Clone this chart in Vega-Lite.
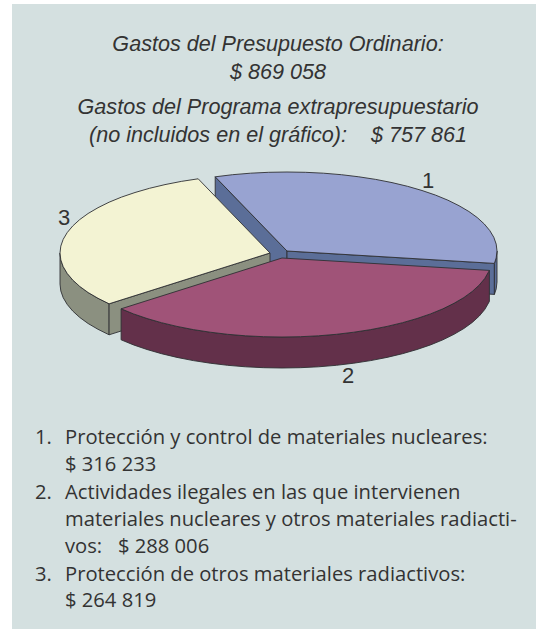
{"$schema":"https://vega.github.io/schema/vega-lite/v6.json","width":536,"height":629,"padding":0,"autosize":{"type":"fit","contains":"padding"},"background":"#ffffff","config":{"view":{"stroke":null}},
"datasets":{
"panel":[{"x":12,"x2":536,"y":4,"y2":629}],
"pie":[
{"part":"a","face":"1 lado","n":1,"x":215.2,"y":176.8},{"part":"a","face":"1 lado","n":2,"x":287,"y":251},{"part":"a","face":"1 lado","n":3,"x":287,"y":282},{"part":"a","face":"1 lado","n":4,"x":215.2,"y":207.8},{"part":"a","face":"1 lado","n":5,"x":215.2,"y":176.8},
{"part":"b","face":"1 lado","n":6,"x":287,"y":251},{"part":"b","face":"1 lado","n":7,"x":494.4,"y":263.4},{"part":"b","face":"1 lado","n":8,"x":494.4,"y":294.4},{"part":"b","face":"1 lado","n":9,"x":287,"y":282},{"part":"b","face":"1 lado","n":10,"x":287,"y":251},
{"part":"c","face":"1 lado","n":11,"x":497,"y":251},{"part":"c","face":"1 lado","n":12,"x":496.2,"y":257.9},{"part":"c","face":"1 lado","n":13,"x":494.4,"y":263.4},{"part":"c","face":"1 lado","n":14,"x":494.4,"y":294.4},{"part":"c","face":"1 lado","n":15,"x":496.2,"y":288.9},{"part":"c","face":"1 lado","n":16,"x":497,"y":282},{"part":"c","face":"1 lado","n":17,"x":497,"y":251},
{"part":"d","face":"1 sup","n":20,"x":215.2,"y":176.8},{"part":"d","face":"1 sup","n":21,"x":232.6,"y":174.7},{"part":"d","face":"1 sup","n":22,"x":250.5,"y":173.2},{"part":"d","face":"1 sup","n":23,"x":268.7,"y":172.3},{"part":"d","face":"1 sup","n":24,"x":287,"y":172},{"part":"d","face":"1 sup","n":25,"x":305.3,"y":172.3},{"part":"d","face":"1 sup","n":26,"x":323.5,"y":173.2},{"part":"d","face":"1 sup","n":27,"x":341.4,"y":174.7},{"part":"d","face":"1 sup","n":28,"x":358.8,"y":176.8},{"part":"d","face":"1 sup","n":29,"x":375.7,"y":179.4},{"part":"d","face":"1 sup","n":30,"x":392,"y":182.6},{"part":"d","face":"1 sup","n":31,"x":407.5,"y":186.3},{"part":"d","face":"1 sup","n":32,"x":422,"y":190.5},{"part":"d","face":"1 sup","n":33,"x":435.5,"y":195.1},{"part":"d","face":"1 sup","n":34,"x":447.9,"y":200.2},{"part":"d","face":"1 sup","n":35,"x":459,"y":205.7},{"part":"d","face":"1 sup","n":36,"x":468.9,"y":211.5},{"part":"d","face":"1 sup","n":37,"x":477.3,"y":217.6},{"part":"d","face":"1 sup","n":38,"x":484.3,"y":224},{"part":"d","face":"1 sup","n":39,"x":489.8,"y":230.6},{"part":"d","face":"1 sup","n":40,"x":493.8,"y":237.3},{"part":"d","face":"1 sup","n":41,"x":496.2,"y":244.1},{"part":"d","face":"1 sup","n":42,"x":497,"y":251},{"part":"d","face":"1 sup","n":43,"x":496.2,"y":257.9},{"part":"d","face":"1 sup","n":44,"x":494.4,"y":263.4},{"part":"d","face":"1 sup","n":45,"x":287,"y":251},{"part":"d","face":"1 sup","n":46,"x":215.2,"y":176.8},
{"part":"e","face":"3 lado","n":50,"x":60,"y":253},{"part":"e","face":"3 lado","n":51,"x":60.8,"y":259.9},{"part":"e","face":"3 lado","n":52,"x":63.2,"y":266.7},{"part":"e","face":"3 lado","n":53,"x":67.2,"y":273.4},{"part":"e","face":"3 lado","n":54,"x":72.7,"y":280},{"part":"e","face":"3 lado","n":55,"x":79.7,"y":286.4},{"part":"e","face":"3 lado","n":56,"x":88.1,"y":292.5},{"part":"e","face":"3 lado","n":57,"x":98,"y":298.3},{"part":"e","face":"3 lado","n":58,"x":109.1,"y":303.8},{"part":"e","face":"3 lado","n":59,"x":109.1,"y":334.8},{"part":"e","face":"3 lado","n":60,"x":98,"y":329.3},{"part":"e","face":"3 lado","n":61,"x":88.1,"y":323.5},{"part":"e","face":"3 lado","n":62,"x":79.7,"y":317.4},{"part":"e","face":"3 lado","n":63,"x":72.7,"y":311},{"part":"e","face":"3 lado","n":64,"x":67.2,"y":304.4},{"part":"e","face":"3 lado","n":65,"x":63.2,"y":297.7},{"part":"e","face":"3 lado","n":66,"x":60.8,"y":290.9},{"part":"e","face":"3 lado","n":67,"x":60,"y":284},{"part":"e","face":"3 lado","n":68,"x":60,"y":253},
{"part":"f","face":"3 lado","n":70,"x":109.1,"y":303.8},{"part":"f","face":"3 lado","n":71,"x":270,"y":253},{"part":"f","face":"3 lado","n":72,"x":270,"y":284},{"part":"f","face":"3 lado","n":73,"x":109.1,"y":334.8},{"part":"f","face":"3 lado","n":74,"x":109.1,"y":303.8},
{"part":"g","face":"3 sup","n":80,"x":198.2,"y":178.8},{"part":"g","face":"3 sup","n":81,"x":181.3,"y":181.4},{"part":"g","face":"3 sup","n":82,"x":165,"y":184.6},{"part":"g","face":"3 sup","n":83,"x":149.5,"y":188.3},{"part":"g","face":"3 sup","n":84,"x":135,"y":192.5},{"part":"g","face":"3 sup","n":85,"x":121.5,"y":197.1},{"part":"g","face":"3 sup","n":86,"x":109.1,"y":202.2},{"part":"g","face":"3 sup","n":87,"x":98,"y":207.7},{"part":"g","face":"3 sup","n":88,"x":88.1,"y":213.5},{"part":"g","face":"3 sup","n":89,"x":79.7,"y":219.6},{"part":"g","face":"3 sup","n":90,"x":72.7,"y":226},{"part":"g","face":"3 sup","n":91,"x":67.2,"y":232.6},{"part":"g","face":"3 sup","n":92,"x":63.2,"y":239.3},{"part":"g","face":"3 sup","n":93,"x":60.8,"y":246.1},{"part":"g","face":"3 sup","n":94,"x":60,"y":253},{"part":"g","face":"3 sup","n":95,"x":60.8,"y":259.9},{"part":"g","face":"3 sup","n":96,"x":63.2,"y":266.7},{"part":"g","face":"3 sup","n":97,"x":67.2,"y":273.4},{"part":"g","face":"3 sup","n":98,"x":72.7,"y":280},{"part":"g","face":"3 sup","n":99,"x":79.7,"y":286.4},{"part":"g","face":"3 sup","n":100,"x":88.1,"y":292.5},{"part":"g","face":"3 sup","n":101,"x":98,"y":298.3},{"part":"g","face":"3 sup","n":102,"x":109.1,"y":303.8},{"part":"g","face":"3 sup","n":103,"x":270,"y":253},{"part":"g","face":"3 sup","n":104,"x":198.2,"y":178.8},
{"part":"h","face":"2 lado","n":110,"x":489.4,"y":270.4},{"part":"h","face":"2 lado","n":111,"x":484.8,"y":278.4},{"part":"h","face":"2 lado","n":112,"x":479.3,"y":285},{"part":"h","face":"2 lado","n":113,"x":472.3,"y":291.4},{"part":"h","face":"2 lado","n":114,"x":463.9,"y":297.5},{"part":"h","face":"2 lado","n":115,"x":454,"y":303.3},{"part":"h","face":"2 lado","n":116,"x":442.9,"y":308.8},{"part":"h","face":"2 lado","n":117,"x":430.5,"y":313.9},{"part":"h","face":"2 lado","n":118,"x":417,"y":318.5},{"part":"h","face":"2 lado","n":119,"x":402.5,"y":322.7},{"part":"h","face":"2 lado","n":120,"x":387,"y":326.4},{"part":"h","face":"2 lado","n":121,"x":370.7,"y":329.6},{"part":"h","face":"2 lado","n":122,"x":353.8,"y":332.2},{"part":"h","face":"2 lado","n":123,"x":336.4,"y":334.3},{"part":"h","face":"2 lado","n":124,"x":318.5,"y":335.8},{"part":"h","face":"2 lado","n":125,"x":300.3,"y":336.7},{"part":"h","face":"2 lado","n":126,"x":282,"y":337},{"part":"h","face":"2 lado","n":127,"x":263.7,"y":336.7},{"part":"h","face":"2 lado","n":128,"x":245.5,"y":335.8},{"part":"h","face":"2 lado","n":129,"x":227.6,"y":334.3},{"part":"h","face":"2 lado","n":130,"x":210.2,"y":332.2},{"part":"h","face":"2 lado","n":131,"x":193.3,"y":329.6},{"part":"h","face":"2 lado","n":132,"x":177,"y":326.4},{"part":"h","face":"2 lado","n":133,"x":161.5,"y":322.7},{"part":"h","face":"2 lado","n":134,"x":147,"y":318.5},{"part":"h","face":"2 lado","n":135,"x":133.5,"y":313.9},{"part":"h","face":"2 lado","n":136,"x":121.1,"y":308.8},
{"part":"h","face":"2 lado","n":137,"x":121.1,"y":339.8},{"part":"h","face":"2 lado","n":138,"x":133.5,"y":344.9},{"part":"h","face":"2 lado","n":139,"x":147,"y":349.5},{"part":"h","face":"2 lado","n":140,"x":161.5,"y":353.7},{"part":"h","face":"2 lado","n":141,"x":177,"y":357.4},{"part":"h","face":"2 lado","n":142,"x":193.3,"y":360.6},{"part":"h","face":"2 lado","n":143,"x":210.2,"y":363.2},{"part":"h","face":"2 lado","n":144,"x":227.6,"y":365.3},{"part":"h","face":"2 lado","n":145,"x":245.5,"y":366.8},{"part":"h","face":"2 lado","n":146,"x":263.7,"y":367.7},{"part":"h","face":"2 lado","n":147,"x":282,"y":368},{"part":"h","face":"2 lado","n":148,"x":300.3,"y":367.7},{"part":"h","face":"2 lado","n":149,"x":318.5,"y":366.8},{"part":"h","face":"2 lado","n":150,"x":336.4,"y":365.3},{"part":"h","face":"2 lado","n":151,"x":353.8,"y":363.2},{"part":"h","face":"2 lado","n":152,"x":370.7,"y":360.6},{"part":"h","face":"2 lado","n":153,"x":387,"y":357.4},{"part":"h","face":"2 lado","n":154,"x":402.5,"y":353.7},{"part":"h","face":"2 lado","n":155,"x":417,"y":349.5},{"part":"h","face":"2 lado","n":156,"x":430.5,"y":344.9},{"part":"h","face":"2 lado","n":157,"x":442.9,"y":339.8},{"part":"h","face":"2 lado","n":158,"x":454,"y":334.3},{"part":"h","face":"2 lado","n":159,"x":463.9,"y":328.5},{"part":"h","face":"2 lado","n":160,"x":472.3,"y":322.4},{"part":"h","face":"2 lado","n":161,"x":479.3,"y":316},{"part":"h","face":"2 lado","n":162,"x":484.8,"y":309.4},{"part":"h","face":"2 lado","n":163,"x":489.4,"y":301.4},{"part":"h","face":"2 lado","n":164,"x":489.4,"y":270.4},
{"part":"i","face":"2 sup","n":170,"x":489.4,"y":270.4},{"part":"i","face":"2 sup","n":171,"x":484.8,"y":278.4},{"part":"i","face":"2 sup","n":172,"x":479.3,"y":285},{"part":"i","face":"2 sup","n":173,"x":472.3,"y":291.4},{"part":"i","face":"2 sup","n":174,"x":463.9,"y":297.5},{"part":"i","face":"2 sup","n":175,"x":454,"y":303.3},{"part":"i","face":"2 sup","n":176,"x":442.9,"y":308.8},{"part":"i","face":"2 sup","n":177,"x":430.5,"y":313.9},{"part":"i","face":"2 sup","n":178,"x":417,"y":318.5},{"part":"i","face":"2 sup","n":179,"x":402.5,"y":322.7},{"part":"i","face":"2 sup","n":180,"x":387,"y":326.4},{"part":"i","face":"2 sup","n":181,"x":370.7,"y":329.6},{"part":"i","face":"2 sup","n":182,"x":353.8,"y":332.2},{"part":"i","face":"2 sup","n":183,"x":336.4,"y":334.3},{"part":"i","face":"2 sup","n":184,"x":318.5,"y":335.8},{"part":"i","face":"2 sup","n":185,"x":300.3,"y":336.7},{"part":"i","face":"2 sup","n":186,"x":282,"y":337},{"part":"i","face":"2 sup","n":187,"x":263.7,"y":336.7},{"part":"i","face":"2 sup","n":188,"x":245.5,"y":335.8},{"part":"i","face":"2 sup","n":189,"x":227.6,"y":334.3},{"part":"i","face":"2 sup","n":190,"x":210.2,"y":332.2},{"part":"i","face":"2 sup","n":191,"x":193.3,"y":329.6},{"part":"i","face":"2 sup","n":192,"x":177,"y":326.4},{"part":"i","face":"2 sup","n":193,"x":161.5,"y":322.7},{"part":"i","face":"2 sup","n":194,"x":147,"y":318.5},{"part":"i","face":"2 sup","n":195,"x":133.5,"y":313.9},{"part":"i","face":"2 sup","n":196,"x":121.1,"y":308.8},{"part":"i","face":"2 sup","n":197,"x":282,"y":258},{"part":"i","face":"2 sup","n":198,"x":489.4,"y":270.4}
],
"title":[
{"text":"Gastos del Presupuesto Ordinario:","x":278,"y":51},
{"text":"$ 869 058","x":278,"y":79},
{"text":"Gastos del Programa extrapresupuestario","x":278,"y":114},
{"text":"(no incluidos en el gráfico):\u00a0\u00a0\u00a0 $ 757 861","x":278,"y":142}
],
"labels":[
{"text":"1","value":316233,"x":428,"y":188},
{"text":"2","value":288006,"x":348,"y":383},
{"text":"3","value":264819,"x":64,"y":225}
],
"list":[
{"text":"1.","x":35,"y":444},
{"text":"Protección y control de materiales nucleares:","x":65,"y":444},
{"text":"$ 316 233","x":65,"y":471},
{"text":"2.","x":35,"y":499},
{"text":"Actividades ilegales en las que intervienen","x":65,"y":499},
{"text":"materiales nucleares y otros materiales radiacti-","x":65,"y":526},
{"text":"vos:\u00a0\u00a0 $ 288 006","x":65,"y":553},
{"text":"3.","x":35,"y":581},
{"text":"Protección de otros materiales radiactivos:","x":65,"y":581},
{"text":"$ 264 819","x":65,"y":607}
]},
"encoding":{
"x":{"field":"x","type":"quantitative","scale":{"domain":[0,536],"nice":false,"zero":false},"axis":null},
"y":{"field":"y","type":"quantitative","scale":{"domain":[629,0],"nice":false,"zero":false},"axis":null}},
"layer":[
{"data":{"name":"panel"},"mark":{"type":"rect","fill":"#d4e0e0"},"encoding":{"x2":{"field":"x2"},"y2":{"field":"y2"}}},
{"data":{"name":"pie"},"mark":{"type":"line","stroke":"#2f3033","strokeWidth":0.9,"strokeJoin":"round"},"encoding":{
"detail":{"field":"part"},
"order":{"field":"n","type":"quantitative"},
"fill":{"field":"face","type":"nominal","legend":null,"scale":{"domain":["1 lado","1 sup","2 lado","2 sup","3 lado","3 sup"],"range":["#5b6e98","#98a3d1","#63304a","#a05378","#8b9080","#f3f3d3"]}}}},
{"data":{"name":"title"},"mark":{"type":"text","font":"Liberation Sans","fontStyle":"italic","fontSize":21.6,"align":"center","baseline":"alphabetic","fill":"#333333"},"encoding":{"text":{"field":"text"}}},
{"data":{"name":"labels"},"mark":{"type":"text","font":"Liberation Sans","fontSize":22,"align":"center","baseline":"alphabetic","fill":"#333333"},"encoding":{"text":{"field":"text"}}},
{"data":{"name":"list"},"mark":{"type":"text","font":"Open Sans","fontSize":20.2,"align":"left","baseline":"alphabetic","fill":"#333333"},"encoding":{"text":{"field":"text"}}}
]}
